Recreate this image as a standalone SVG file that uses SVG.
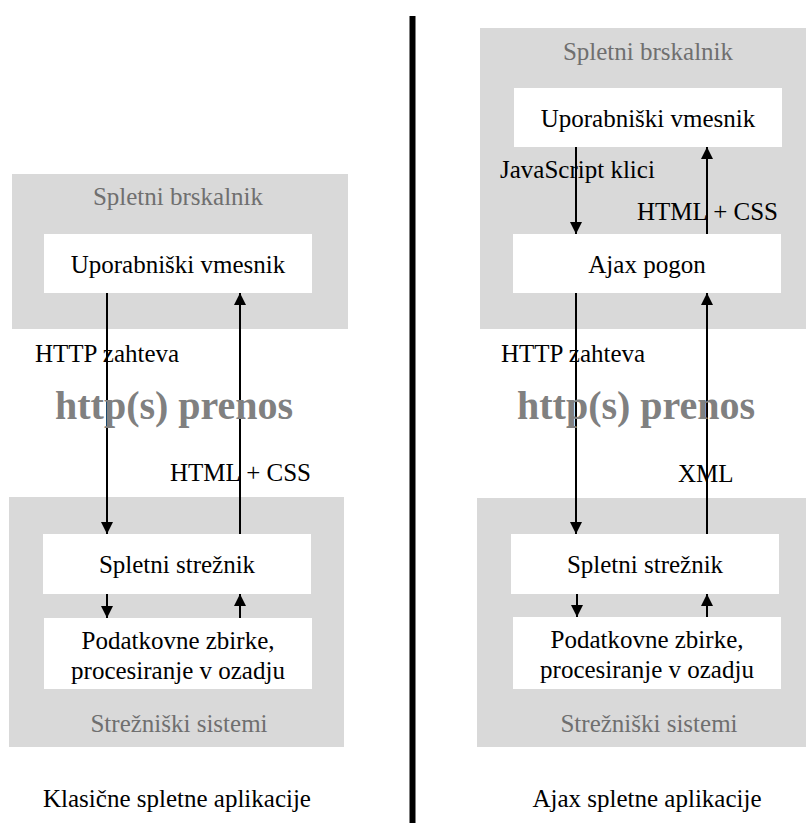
<svg xmlns="http://www.w3.org/2000/svg" width="806" height="823" viewBox="0 0 806 823">
<style>
text{font-family:"Liberation Serif","Times New Roman",serif;font-size:25px;fill:#000}
.c{text-anchor:middle}
.g{fill:#6f6f6f}
.big{font-size:40px;font-weight:bold;fill:#808080}
.grp{fill:#d9d9d9}
.box{fill:#fff}
.ln{stroke:#000;stroke-width:2;fill:none}
</style>
<defs>
<marker id="ah" markerUnits="userSpaceOnUse" markerWidth="12" markerHeight="12" viewBox="0 0 12 12" refX="12" refY="6" orient="auto">
<path d="M0,0 L12,6 L0,12 z" fill="#000"/>
</marker>
</defs>
<rect width="806" height="823" fill="#fff"/>
<rect x="409.5" y="16" width="6" height="807" fill="#000"/>

<g id="left-browser">
<rect class="grp" x="12" y="174" width="336" height="155"/>
<text class="c g" x="178" y="205">Spletni brskalnik</text>
</g>
<g id="left-ui">
<rect class="box" x="44" y="234" width="268" height="59"/>
<text class="c" x="178" y="273">Uporabniški vmesnik</text>
</g>
<g id="left-servers">
<rect class="grp" x="9" y="497" width="335" height="250"/>
<text class="c g" x="179" y="732">Strežniški sistemi</text>
</g>
<g id="left-webserver">
<rect class="box" x="43" y="534" width="268" height="60"/>
<text class="c" x="177" y="573">Spletni strežnik</text>
</g>
<g id="left-data">
<rect class="box" x="44" y="618" width="268" height="71"/>
<text class="c" x="178" y="649">Podatkovne zbirke,</text>
<text class="c" x="178" y="679">procesiranje v ozadju</text>
</g>

<g id="right-browser">
<rect class="grp" x="480" y="28" width="326" height="301"/>
<text class="c g" x="648" y="60">Spletni brskalnik</text>
</g>
<g id="right-ui">
<rect class="box" x="514" y="88" width="268" height="59"/>
<text class="c" x="648" y="127">Uporabniški vmesnik</text>
</g>
<g id="right-ajax">
<rect class="box" x="513" y="234" width="268" height="59"/>
<text class="c" x="647" y="273">Ajax pogon</text>
</g>
<g id="right-servers">
<rect class="grp" x="477" y="498" width="329" height="249"/>
<text class="c g" x="649" y="732">Strežniški sistemi</text>
</g>
<g id="right-webserver">
<rect class="box" x="511" y="534" width="268" height="60"/>
<text class="c" x="645" y="573">Spletni strežnik</text>
</g>
<g id="right-data">
<rect class="box" x="513" y="617" width="268" height="72"/>
<text class="c" x="647" y="648">Podatkovne zbirke,</text>
<text class="c" x="647" y="678">procesiranje v ozadju</text>
</g>

<g id="connectors">
<line class="ln" x1="107" y1="293" x2="107" y2="534" marker-end="url(#ah)"/>
<line class="ln" x1="240" y1="534" x2="240" y2="293" marker-end="url(#ah)"/>
<line class="ln" x1="107" y1="594" x2="107" y2="618" marker-end="url(#ah)"/>
<line class="ln" x1="240" y1="618" x2="240" y2="594" marker-end="url(#ah)"/>
<line class="ln" x1="576" y1="147" x2="576" y2="234" marker-end="url(#ah)"/>
<line class="ln" x1="707" y1="234" x2="707" y2="147" marker-end="url(#ah)"/>
<line class="ln" x1="576" y1="293" x2="576" y2="534" marker-end="url(#ah)"/>
<line class="ln" x1="707" y1="534" x2="707" y2="293" marker-end="url(#ah)"/>
<line class="ln" x1="577" y1="594" x2="577" y2="617" marker-end="url(#ah)"/>
<line class="ln" x1="707" y1="617" x2="707" y2="594" marker-end="url(#ah)"/>
</g>

<g id="labels">
<text x="35" y="362">HTTP zahteva</text>
<text class="big" x="55" y="419">http(s) prenos</text>
<text x="170" y="481">HTML + CSS</text>
<text x="500" y="178">JavaScript klici</text>
<text x="637" y="220">HTML + CSS</text>
<text x="501" y="362">HTTP zahteva</text>
<text class="big" x="517" y="419">http(s) prenos</text>
<text x="678" y="482">XML</text>
<text class="c" x="177" y="807">Klasične spletne aplikacije</text>
<text class="c" x="647" y="807">Ajax spletne aplikacije</text>
</g>
</svg>
